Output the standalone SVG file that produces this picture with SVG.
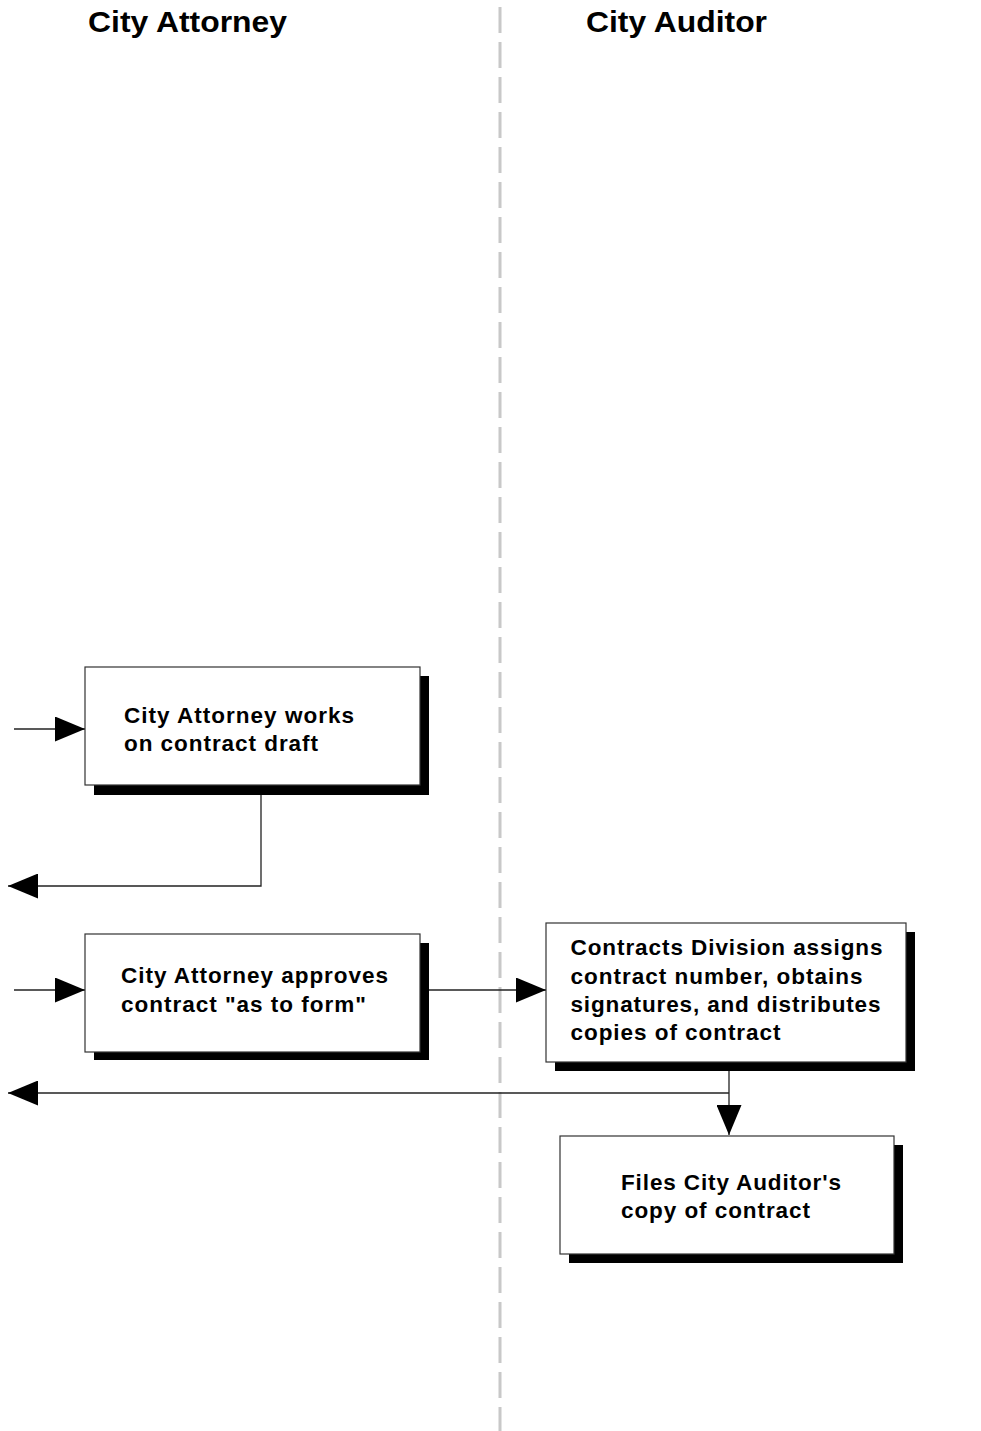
<svg xmlns="http://www.w3.org/2000/svg" width="981" height="1431" viewBox="0 0 981 1431">
<style>
.lane{stroke:#c8c8c8;stroke-width:3;stroke-dasharray:26 9;fill:none}
.title{font-family:"Liberation Sans",Arial,sans-serif;font-weight:bold;font-size:30px;fill:#000}
.box{fill:#fff;stroke:#333;stroke-width:1.2}
.shadow{fill:#000}
.lbl{font-family:"Liberation Sans",Arial,sans-serif;font-weight:bold;font-size:22.5px;fill:#000}
.conn{fill:none;stroke:#222;stroke-width:1.3}
</style>
<defs>
<marker id="arr" markerUnits="userSpaceOnUse" markerWidth="30" markerHeight="25" refX="30" refY="12.5" orient="auto" viewBox="0 0 30 25">
<path d="M0,0 L30,12.5 L0,25 Z" fill="#000"/>
</marker>
</defs>
<rect width="981" height="1431" fill="#fff"/>
<g id="lanes">
<line class="lane" x1="500" y1="7" x2="500" y2="1431"/>
<text class="title" x="88" y="32" textLength="199" lengthAdjust="spacingAndGlyphs">City Attorney</text>
<text class="title" x="586" y="32" textLength="181" lengthAdjust="spacingAndGlyphs">City Auditor</text>
</g>
<g id="connectors">
<path class="conn" d="M14,729 H85" marker-end="url(#arr)"/>
<path class="conn" d="M261,785 V886 H8" marker-end="url(#arr)"/>
<path class="conn" d="M14,990 H85" marker-end="url(#arr)"/>
<path class="conn" d="M420,990 H546" marker-end="url(#arr)"/>
<path class="conn" d="M729,1062 V1135" marker-end="url(#arr)"/>
<path class="conn" d="M729,1093 H8" marker-end="url(#arr)"/>
</g>
<g id="node-draft">
<rect class="shadow" x="94" y="676" width="335" height="119"/>
<rect class="box" x="85" y="667" width="335" height="118"/>
<text class="lbl" x="124" y="723" textLength="230" lengthAdjust="spacing">City Attorney works</text>
<text class="lbl" x="124" y="751" textLength="194" lengthAdjust="spacing">on contract draft</text>
</g>
<g id="node-approve">
<rect class="shadow" x="94" y="943" width="335" height="117"/>
<rect class="box" x="85" y="934" width="335" height="118"/>
<text class="lbl" x="121" y="983" textLength="267" lengthAdjust="spacing">City Attorney approves</text>
<text class="lbl" x="121" y="1012" textLength="245" lengthAdjust="spacing">contract "as to form"</text>
</g>
<g id="node-contracts">
<rect class="shadow" x="555" y="932" width="360" height="139"/>
<rect class="box" x="546" y="923" width="360" height="139"/>
<text class="lbl" x="570.5" y="955" textLength="312" lengthAdjust="spacing">Contracts Division assigns</text>
<text class="lbl" x="570.5" y="983.5" textLength="292" lengthAdjust="spacing">contract number, obtains</text>
<text class="lbl" x="570.5" y="1012" textLength="310" lengthAdjust="spacing">signatures, and distributes</text>
<text class="lbl" x="570.5" y="1040" textLength="210" lengthAdjust="spacing">copies of contract</text>
</g>
<g id="node-files">
<rect class="shadow" x="569" y="1145" width="334" height="118"/>
<rect class="box" x="560" y="1136" width="334" height="118"/>
<text class="lbl" x="621" y="1190" textLength="220" lengthAdjust="spacing">Files City Auditor's</text>
<text class="lbl" x="621" y="1218" textLength="189" lengthAdjust="spacing">copy of contract</text>
</g>
</svg>
